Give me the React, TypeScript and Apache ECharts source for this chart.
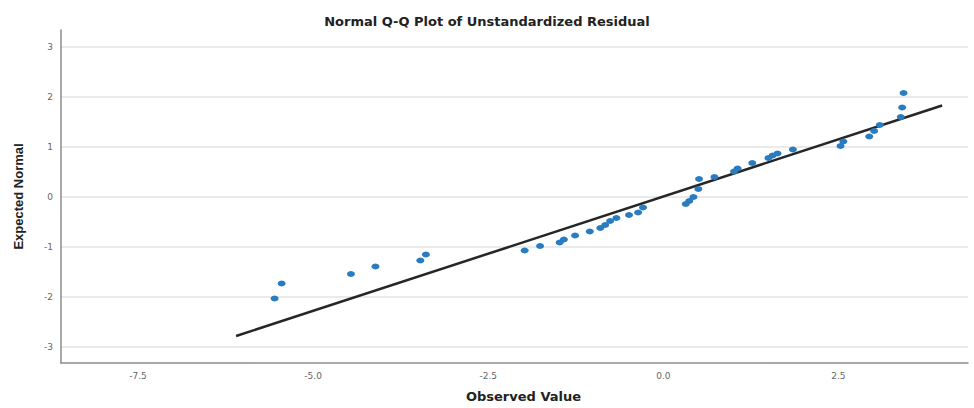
import React, { useEffect, useRef } from "react";
import * as echarts from "echarts";

const observedValues = [
  -5.55, -5.45, -4.46, -4.11, -3.47, -3.39, -1.98, -1.76, -1.48, -1.42,
  -1.26, -1.05, -0.9, -0.83, -0.76, -0.67, -0.49, -0.36, -0.29, 0.32,
  0.37, 0.43, 0.5, 0.51, 0.73, 1.01, 1.06, 1.27, 1.5, 1.56, 1.63, 1.85,
  2.53, 2.57, 2.94, 3.01, 3.09, 3.39, 3.41, 3.43,
];
const expectedNormal = [
  -2.04, -1.74, -1.55, -1.4, -1.28, -1.16, -1.08, -0.99, -0.92, -0.86,
  -0.78, -0.7, -0.63, -0.57, -0.49, -0.43, -0.37, -0.32, -0.22, -0.15,
  -0.09, -0.01, 0.15, 0.35, 0.39, 0.5, 0.56, 0.67, 0.77, 0.82, 0.86, 0.94,
  1.01, 1.1, 1.2, 1.31, 1.43, 1.59, 1.78, 2.07,
];
const refLineX = [-6.1, 3.98];
const refLineY = [-2.79, 1.82];
const xTicks = [-7.5, -5.0, -2.5, 0.0, 2.5];
const yTicks = [-3, -2, -1, 0, 1, 2, 3];

export default function App() {
  const ref = useRef<HTMLDivElement>(null);
  useEffect(() => {
    if (!ref.current) return;
    const chart = echarts.init(ref.current, null, { renderer: "svg" });
    chart.setOption({
      animation: false,
      backgroundColor: "#ffffff",
      title: {
        text: "Normal Q-Q Plot of Unstandardized Residual",
        left: "center",
        top: 10,
        textStyle: {
          fontFamily: "DejaVu Sans",
          fontSize: 13,
          fontWeight: "bold",
          color: "#222",
        },
      },
      grid: { left: 61, right: 6, top: 30, bottom: 41 },
      xAxis: {
        type: "value",
        min: -8.6,
        max: 4.35,
        name: "Observed Value",
        nameLocation: "middle",
        nameGap: 27,
        nameTextStyle: {
          fontFamily: "DejaVu Sans",
          fontSize: 13,
          fontWeight: "bold",
          color: "#222",
          padding: [0, 0, 0, 18],
        },
        axisLine: { show: true, onZero: false, lineStyle: { color: "#8c8c8c", width: 1.5 } },
        axisTick: { show: false, customValues: xTicks },
        splitLine: { show: false },
        axisLabel: {
          customValues: xTicks,
          formatter: (v: number) => v.toFixed(1),
          fontFamily: "DejaVu Sans",
          fontSize: 9,
          color: "#666",
          margin: 8,
        },
      },
      yAxis: {
        type: "value",
        min: -3.33,
        max: 3.33,
        name: "Expected Normal",
        nameLocation: "middle",
        nameGap: 36,
        nameTextStyle: {
          fontFamily: "Liberation Sans",
          fontSize: 13,
          fontWeight: "bold",
          color: "#222",
        },
        axisLine: { show: true, onZero: false, lineStyle: { color: "#8c8c8c", width: 1.5 } },
        axisTick: { show: false, customValues: yTicks },
        splitLine: { show: true, lineStyle: { color: "#e3e3e3", width: 1.5 } },
        axisLabel: {
          customValues: yTicks,
          fontFamily: "DejaVu Sans",
          fontSize: 9,
          color: "#666",
          margin: 8,
        },
      },
      series: [
        {
          type: "line",
          data: refLineX.map((x, i) => [x, refLineY[i]]),
          symbol: "none",
          lineStyle: { color: "#262626", width: 2.5 },
          z: 2,
        },
        {
          type: "scatter",
          data: observedValues.map((x, i) => [x, expectedNormal[i]]),
          symbol: "circle",
          symbolSize: [8, 6],
          itemStyle: { color: "#2a7cc0", opacity: 1 },
          z: 3,
        },
      ],
    });
    return () => chart.dispose();
  }, []);
  return (
    <div
      ref={ref}
      style={{ position: "fixed", left: 0, top: 0, width: 974, height: 408 }}
    />
  );
}
